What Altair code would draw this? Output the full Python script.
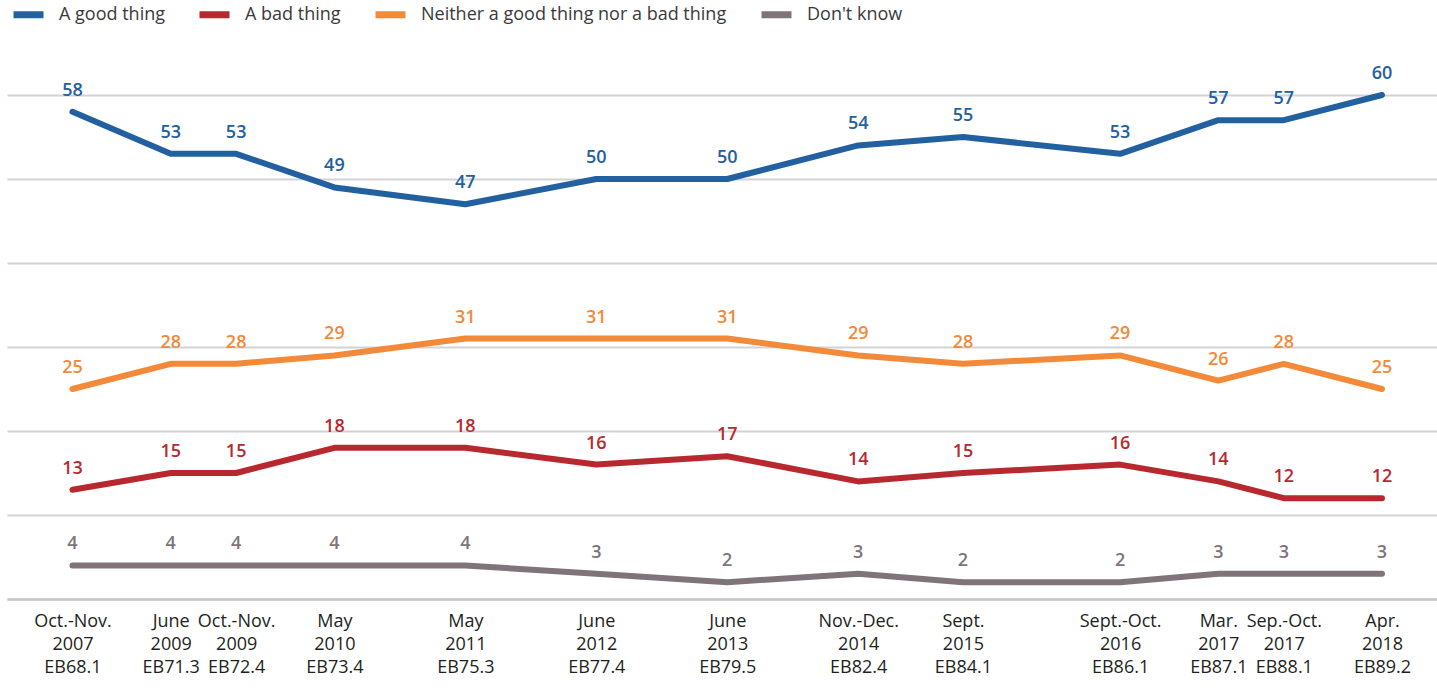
import altair as alt
import pandas as pd

# survey slots (position along the x axis, in survey-slot units) and their labels
positions = [0, 0.75, 1.25, 2.0, 3.0, 4.0, 5.0, 6.0, 6.8, 8.0, 8.75, 9.25, 10.0]
survey_labels = [
    "Oct.-Nov.|2007|EB68.1", "June|2009|EB71.3", "Oct.-Nov.|2009|EB72.4",
    "May|2010|EB73.4", "May|2011|EB75.3", "June|2012|EB77.4", "June|2013|EB79.5",
    "Nov.-Dec.|2014|EB82.4", "Sept.|2015|EB84.1", "Sept.-Oct.|2016|EB86.1",
    "Mar.|2017|EB87.1", "Sep.-Oct.|2017|EB88.1", "Apr.|2018|EB89.2",
]

series_names = ["A good thing", "A bad thing", "Neither a good thing nor a bad thing", "Don't know"]
good = [58, 53, 53, 49, 47, 50, 50, 54, 55, 53, 57, 57, 60]
bad = [13, 15, 15, 18, 18, 16, 17, 14, 15, 16, 14, 12, 12]
neither = [25, 28, 28, 29, 31, 31, 31, 29, 28, 29, 26, 28, 25]
dont_know = [4, 4, 4, 4, 4, 3, 2, 3, 2, 2, 3, 3, 3]
colors = ["#23609f", "#b8292f", "#f28a3a", "#7e7479"]

rows = []
for name, vals in zip(series_names, [good, bad, neither, dont_know]):
    for i, (p, v) in enumerate(zip(positions, vals)):
        rows.append({"series": name, "pos": p, "value": v, "order": i})
df = pd.DataFrame(rows)

label_list = ",".join("'" + l + "'" for l in survey_labels)
pos_list = ",".join(str(p) for p in positions)
label_expr = f"split([{label_list}][indexof([{pos_list}], datum.value)], '|')"

FONT = "Open Sans"

color = alt.Color(
    "series:N",
    scale=alt.Scale(domain=series_names, range=colors),
    legend=alt.Legend(
        title=None, orient="none", legendX=3, legendY=-99, direction="horizontal",
        symbolType="stroke", symbolStrokeWidth=7, symbolSize=900,
        labelFontSize=18, labelColor="#3a3a3a", labelFont=FONT,
        columnPadding=20, labelOffset=12, labelLimit=600,
    ),
)

x = alt.X(
    "pos:Q",
    scale=alt.Scale(domain=[-0.5, 10.42], nice=False, zero=False),
    axis=alt.Axis(
        title=None, values=positions, labelExpr=label_expr, grid=False, ticks=False,
        domain=True, domainColor="#c6c6c6", domainWidth=2.5,
        labelFontSize=18, labelColor="#231f20", labelFont=FONT, labelLineHeight=23,
        labelPadding=13, labelOverlap=False, labelFlush=False,
    ),
)
y = alt.Y(
    "value:Q",
    scale=alt.Scale(domain=[0, 60], nice=False),
    axis=alt.Axis(
        title=None, values=[0, 10, 20, 30, 40, 50, 60], labels=False, ticks=False,
        domain=False, grid=True, gridColor="#d3d3d3", gridWidth=2,
    ),
)

base = alt.Chart(df)
lines = base.mark_line(strokeWidth=6, strokeCap="round", strokeJoin="round").encode(
    x=x, y=y, color=color, order="order:Q", detail="series:N"
)
texts = base.mark_text(dy=-21, fontSize=18, fontWeight=600, font=FONT).encode(
    x="pos:Q", y="value:Q", text="value:Q",
    color=alt.Color("series:N", scale=alt.Scale(domain=series_names, range=colors), legend=None),
)

chart = (
    alt.layer(lines, texts)
    .properties(
        width=1430, height=504,
        autosize=alt.AutoSizeParams(type="none"),
        padding={"left": 7, "top": 95, "right": 0, "bottom": 86},
        background="white",
    )
    .configure_view(stroke=None)
)

chart.save("out.html", embed_options={"renderer": "svg", "actions": False})
